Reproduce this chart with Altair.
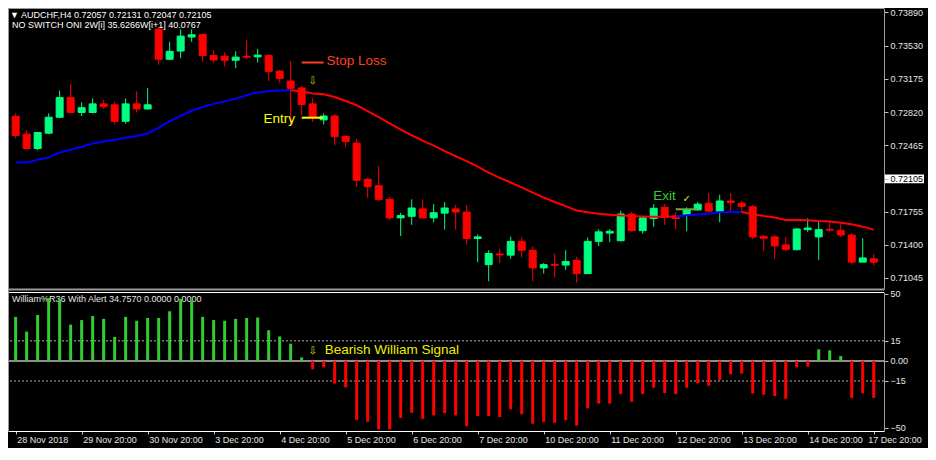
import altair as alt
import pandas as pd

# ---------------- data ----------------
bar_index = list(range(1, 80))

opens = [0.72775, 0.72584, 0.72430, 0.72594, 0.72765, 0.72976, 0.72816, 0.72816, 0.72908, 0.72898,
         0.72721, 0.72908, 0.72854, 0.73709, 0.73386, 0.73474, 0.73624, 0.73652, 0.73427, 0.73419,
         0.73375, 0.73418, 0.73412, 0.73427, 0.73259, 0.73153, 0.73079, 0.72908, 0.72737, 0.72778,
         0.72560, 0.72488, 0.72100, 0.72031, 0.71885, 0.71687, 0.71704, 0.71783, 0.71687, 0.71738,
         0.71783, 0.71749, 0.71466, 0.71186, 0.71300, 0.71288, 0.71435, 0.71340, 0.71151, 0.71190,
         0.71182, 0.71230, 0.71090, 0.71435, 0.71524, 0.71442, 0.71728, 0.71550, 0.71680, 0.71800,
         0.71708, 0.71714, 0.71772, 0.71844, 0.71759, 0.71868, 0.71844, 0.71806, 0.71489, 0.71483,
         0.71397, 0.71346, 0.71561, 0.71483, 0.71565, 0.71554, 0.71503, 0.71213, 0.71248]
highs = [0.72806, 0.72625, 0.72608, 0.72806, 0.73051, 0.73123, 0.72925, 0.72966, 0.72949, 0.72931,
         0.72966, 0.73041, 0.73079, 0.73733, 0.73573, 0.73706, 0.73706, 0.73660, 0.73481, 0.73460,
         0.73471, 0.73596, 0.73498, 0.73440, 0.73273, 0.73368, 0.73102, 0.72969, 0.72806, 0.72798,
         0.72573, 0.72532, 0.72117, 0.72243, 0.71913, 0.71742, 0.71885, 0.71885, 0.71834, 0.71857,
         0.71824, 0.71824, 0.71510, 0.71340, 0.71356, 0.71486, 0.71476, 0.71381, 0.71203, 0.71305,
         0.71340, 0.71271, 0.71476, 0.71565, 0.71568, 0.71765, 0.71749, 0.71698, 0.71834, 0.71834,
         0.71749, 0.71800, 0.71857, 0.71953, 0.71936, 0.71953, 0.71868, 0.71824, 0.71503, 0.71503,
         0.71483, 0.71578, 0.71683, 0.71653, 0.71639, 0.71619, 0.71527, 0.71469, 0.71299]
lows = [0.72540, 0.72422, 0.72414, 0.72584, 0.72754, 0.72806, 0.72778, 0.72806, 0.72854, 0.72683,
        0.72696, 0.72816, 0.72846, 0.73327, 0.73378, 0.73396, 0.73573, 0.73361, 0.73345, 0.73310,
        0.73290, 0.73386, 0.73351, 0.73153, 0.73136, 0.72676, 0.72788, 0.72714, 0.72686, 0.72465,
        0.72448, 0.72021, 0.71902, 0.71867, 0.71663, 0.71493, 0.71612, 0.71680, 0.71639, 0.71561,
        0.71561, 0.71401, 0.71213, 0.71008, 0.71203, 0.71248, 0.71264, 0.71008, 0.71090, 0.71049,
        0.71128, 0.70992, 0.71084, 0.71387, 0.71428, 0.71435, 0.71537, 0.71517, 0.71591, 0.71612,
        0.71568, 0.71544, 0.71765, 0.71749, 0.71639, 0.71749, 0.71742, 0.71458, 0.71329, 0.71248,
        0.71329, 0.71340, 0.71537, 0.71237, 0.71544, 0.71483, 0.71186, 0.71213, 0.71176]
closes = [0.72570, 0.72430, 0.72601, 0.72765, 0.72976, 0.72816, 0.72867, 0.72908, 0.72880, 0.72721,
          0.72908, 0.72854, 0.72898, 0.73386, 0.73471, 0.73634, 0.73648, 0.73427, 0.73378, 0.73375,
          0.73409, 0.73408, 0.73430, 0.73256, 0.73181, 0.73075, 0.72901, 0.72765, 0.72778, 0.72557,
          0.72506, 0.72090, 0.72021, 0.71885, 0.71687, 0.71711, 0.71793, 0.71687, 0.71742, 0.71793,
          0.71749, 0.71466, 0.71483, 0.71305, 0.71290, 0.71435, 0.71340, 0.71151, 0.71186, 0.71180,
          0.71220, 0.71090, 0.71435, 0.71537, 0.71544, 0.71728, 0.71550, 0.71687, 0.71790, 0.71691,
          0.71680, 0.71772, 0.71834, 0.71759, 0.71868, 0.71851, 0.71810, 0.71483, 0.71469, 0.71387,
          0.71350, 0.71568, 0.71578, 0.71561, 0.71556, 0.71503, 0.71213, 0.71258, 0.71213]

ma_line = [0.72281, 0.72281, 0.72309, 0.72335, 0.72388, 0.72417, 0.72448, 0.72483, 0.72506, 0.72524,
           0.72545, 0.72565, 0.72591, 0.72652, 0.72724, 0.72780, 0.72834, 0.72874, 0.72908, 0.72933,
           0.72964, 0.73000, 0.73031, 0.73044, 0.73051, 0.73054, 0.73043, 0.73020, 0.73010, 0.72982,
           0.72939, 0.72893, 0.72831, 0.72765, 0.72698, 0.72632, 0.72572, 0.72514, 0.72461, 0.72402,
           0.72347, 0.72294, 0.72235, 0.72171, 0.72115, 0.72066, 0.72013, 0.71957, 0.71905, 0.71857,
           0.71813, 0.71765, 0.71747, 0.71731, 0.71721, 0.71713, 0.71708, 0.71703, 0.71699, 0.71699,
           0.71701, 0.71714, 0.71723, 0.71731, 0.71747, 0.71749, 0.71749, 0.71726, 0.71708, 0.71691,
           0.71665, 0.71663, 0.71662, 0.71653, 0.71647, 0.71634, 0.71619, 0.71593, 0.71561]
trend_turns = [26, 61, 67]          # bars where the line switches colour
trend_first = "ma_up"

williams = [32.9, 21.9, 34.3, 46.9, 46.0, 27.1, 30.5, 33.6, 31.4, 17.9,
            32.9, 30.0, 32.1, 32.1, 37.1, 46.4, 45.0, 32.9, 30.5, 30.0,
            31.4, 32.1, 32.4, 22.9, 18.3, 12.9, 2.6, -6.2, -4.8, -16.9,
            -19.8, -44.0, -45.5, -51.2, -51.2, -42.6, -38.8, -43.3, -40.7, -39.0,
            -40.7, -48.8, -41.2, -41.2, -41.9, -36.2, -39.8, -46.9, -45.5, -46.2,
            -44.3, -48.3, -35.5, -31.9, -31.9, -24.8, -30.5, -24.8, -20.0, -24.0,
            -24.8, -20.0, -16.7, -18.6, -14.3, -10.0, -9.5, -24.3, -25.2, -26.2,
            -28.3, -4.8, -4.3, 8.6, 7.9, 3.6, -27.6, -24.3, -27.6]

price_ticks = [0.73890, 0.73530, 0.73175, 0.72820, 0.72465, 0.72105, 0.71755, 0.71400, 0.71045]
current_price = [0.72105]
wpr_ticks = [50, 15, 0, -15, -50]
wpr_dashed = [15, -15]
wpr_zero = [0]

date_tick_index = [1, 7, 13, 19, 25, 31, 37, 43, 49, 55, 61, 67, 73, 79]
date_tick_labels = ["28 Nov 2018", "29 Nov 20:00", "30 Nov 20:00", "3 Dec 20:00", "4 Dec 20:00",
                    "5 Dec 20:00", "6 Dec 20:00", "7 Dec 20:00", "10 Dec 20:00", "11 Dec 20:00",
                    "12 Dec 20:00", "13 Dec 20:00", "14 Dec 20:00", "17 Dec 20:00"]

stop_loss_span = [27, 29]
stop_loss_price = [0.73351]
entry_span = [27, 29]
entry_price = [0.72760]
exit_span = [61, 63]
exit_price = [0.71779]

header_main = ["\u25bc AUDCHF,H4  0.72057 0.72131 0.72047 0.72105"]
header_ind = ["NO SWITCH ONI 2W[i] 35.6266W[i+1] 40.0767"]
header_wpr = ["William%R36 With Alert 34.7570 0.0000 0.0000"]

# ---------------- tables ----------------
candles = pd.DataFrame({"i": bar_index, "o": opens, "h": highs, "l": lows, "c": closes})
candles["dir"] = ["up" if c > o else "down" for o, c in zip(opens, closes)]

rows = []
bounds = [1] + trend_turns + [79]
trend = trend_first
for s in range(len(bounds) - 1):
    for i in range(bounds[s], bounds[s + 1] + 1):
        rows.append({"i": i, "p": ma_line[i - 1], "seg": s, "trend": trend})
    trend = "ma_down" if trend == "ma_up" else "ma_up"
ma_df = pd.DataFrame(rows)

wpr_df = pd.DataFrame({"i": bar_index, "w": williams})
wpr_df["sign"] = ["pos" if v >= 0 else "neg" for v in williams]

# ---------------- scales / axes ----------------
W, H = 876, 423
FONT = "Liberation Sans"

label_expr = " : ".join(f"datum.value == {v} ? '{t}'" for v, t in zip(date_tick_index, date_tick_labels)) + " : ''"
x_scale = alt.Scale(domain=[0.76, 79.48], nice=False, zero=False)
x_axis = alt.Axis(values=date_tick_index, labelExpr=label_expr, labelAlign="left", labelBaseline="top",
                  labelPadding=1, tickSize=3, tickColor="#c8c8c8", domainColor="#ffffff",
                  labelColor="#e6e6e6", labelFontSize=9, labelFont=FONT, grid=False, title=None,
                  labelOverlap=False, labelFlush=False, labelBound=False,
                  labelOffset={"condition": {"test": "datum.value == 79", "value": -6}, "value": 1})


def X(field):
    return alt.X(field, type="quantitative", scale=x_scale, axis=x_axis, title=None)


y_top_scale = alt.Scale(domain=[0.70923, 0.73935], range=[281.2, 0], nice=False, zero=False)
y_top_axis = alt.Axis(orient="right", values=price_ticks, format=".5f", grid=False, title=None,
                      labelFont=FONT, labelFontSize=9, tickSize=4, labelPadding=2,
                      tickColor="#c0c0c0", domainColor="#a0a0a0", zindex=1,
                      labelColor={"condition": {"test": "abs(datum.value - 0.72105) < 0.0000001", "value": "#000000"},
                                  "value": "#e6e6e6"})


def YT(field):
    return alt.Y(field, type="quantitative", scale=y_top_scale, axis=y_top_axis, title=None)


y_bot_scale = alt.Scale(domain=[-52.35, 51.4], range=[423, 284.1], nice=False, zero=False)
y_bot_axis = alt.Axis(orient="right", values=wpr_ticks, grid=False, title=None,
                      labelExpr="datum.value == 0 ? '0.00' : format(datum.value, 'd')",
                      labelFont=FONT, labelFontSize=9, tickSize=4, labelPadding=2,
                      tickColor="#c0c0c0", domainColor="#a0a0a0", labelColor="#e6e6e6", zindex=1)


def YB(field):
    return alt.Y(field, type="quantitative", scale=y_bot_scale, axis=y_bot_axis, title=None)


palette = alt.Scale(domain=["up", "down", "ma_up", "ma_down", "pos", "neg"],
                    range=["#00ff80", "#ff0000", "#0000ff", "#ff0000", "#32cd32", "#ff0000"])

one = pd.DataFrame({"k": [0]})

# ---------------- top panel ----------------
wicks = alt.Chart(candles).mark_rule(strokeWidth=1).encode(
    x=X("i"), y=YT("l"), y2="h",
    color=alt.Color("dir:N", scale=palette, legend=None))
bodies = alt.Chart(candles).mark_bar(size=7, strokeWidth=1).encode(
    x=X("i"), y=YT("o"), y2="c",
    color=alt.Color("dir:N", scale=palette, legend=None),
    stroke=alt.Stroke("dir:N", scale=palette, legend=None))
ma = alt.Chart(ma_df).mark_line(strokeWidth=2).encode(
    x=X("i"), y=YT("p"), detail="seg:N",
    color=alt.Color("trend:N", scale=palette, legend=None))

price_box = alt.Chart(pd.DataFrame({"p": current_price})).mark_point(
    shape="M-2,-0.45H2V0.45H-2Z", size=380, filled=True, color="#ffffff", opacity=1, strokeWidth=0
).encode(x=alt.value(896.5), y=YT("p"))

sl_df = pd.DataFrame({"i0": [stop_loss_span[0]], "i1": [stop_loss_span[1]], "p": stop_loss_price})
en_df = pd.DataFrame({"i0": [entry_span[0]], "i1": [entry_span[1]], "p": entry_price})
ex_df = pd.DataFrame({"i0": [exit_span[0]], "i1": [exit_span[1]], "p": exit_price})

sl_line = alt.Chart(sl_df).mark_rule(color="#ff4020", strokeWidth=2).encode(x=X("i0"), x2="i1", y=YT("p"))
en_line = alt.Chart(en_df).mark_rule(color="#ffff00", strokeWidth=2).encode(x=X("i0"), x2="i1", y=YT("p"))
ex_line = alt.Chart(ex_df).mark_rule(color="#6fae3a", strokeWidth=2).encode(x=X("i0"), x2="i1", y=YT("p"))

notes_top = pd.DataFrame({
    "i": [29.25, 26.4, 61.0, 28.0, 62.0],
    "p": [0.73368, 0.72748, 0.71916, 0.73153, 0.71885],
    "t": ["Stop Loss", "Entry", "Exit", "\u21e9", "\u2713"],
})
sl_text = alt.Chart(notes_top.iloc[[0]]).mark_text(align="left", baseline="middle", font=FONT, fontSize=13.5,
                                                    color="#ff4020").encode(x=X("i"), y=YT("p"), text="t:N")
en_text = alt.Chart(notes_top.iloc[[1]]).mark_text(align="right", baseline="middle", font=FONT, fontSize=13.5,
                                                    color="#ffff00").encode(x=X("i"), y=YT("p"), text="t:N")
ex_text = alt.Chart(notes_top.iloc[[2]]).mark_text(align="right", baseline="middle", font=FONT, fontSize=13.5,
                                                    color="#32cd32").encode(x=X("i"), y=YT("p"), text="t:N")
arrow_top = alt.Chart(notes_top.iloc[[3]]).mark_text(align="center", baseline="middle", font="DejaVu Sans",
                                                      fontSize=10, color="#d2d200").encode(x=X("i"), y=YT("p"), text="t:N")
check = alt.Chart(notes_top.iloc[[4]]).mark_text(align="center", baseline="middle", font="DejaVu Sans",
                                                  fontSize=10, color="#e8e800").encode(x=X("i"), y=YT("p"), text="t:N")

hdr1 = alt.Chart(pd.DataFrame({"t": header_main})).mark_text(
    align="left", baseline="middle", font=FONT, fontSize=9, color="#ffffff"
).encode(x=alt.value(2), y=alt.value(6.7), text="t:N")
hdr2 = alt.Chart(pd.DataFrame({"t": header_ind})).mark_text(
    align="left", baseline="middle", font=FONT, fontSize=9, color="#ffffff"
).encode(x=alt.value(4), y=alt.value(17.2), text="t:N")

top = alt.layer(hdr1, hdr2, wicks, bodies, ma, sl_line, en_line, ex_line,
                sl_text, en_text, ex_text, arrow_top, check, price_box)

# ---------------- bottom panel ----------------
hdr3 = alt.Chart(pd.DataFrame({"t": header_wpr})).mark_text(
    align="left", baseline="middle", font=FONT, fontSize=9, color="#e6e6e6"
).encode(x=alt.value(4), y=alt.value(290.8), text="t:N")
dashed = alt.Chart(pd.DataFrame({"v": wpr_dashed})).mark_rule(
    color="#b4b4b4", strokeWidth=1, strokeDash=[2, 2]).encode(y=YB("v"))
zero = alt.Chart(pd.DataFrame({"v": wpr_zero})).mark_rule(
    color="#8c8c8c", strokeWidth=2).encode(y=YB("v"))
wbars = alt.Chart(wpr_df).mark_bar(size=3).encode(
    x=X("i"), y=YB("w"),
    color=alt.Color("sign:N", scale=palette, legend=None))

notes_bot = pd.DataFrame({"i": [28.0, 29.1], "v": [7.6, 7.9], "t": ["\u21e9", "Bearish William Signal"]})
arrow_bot = alt.Chart(notes_bot.iloc[[0]]).mark_text(align="center", baseline="middle", font="DejaVu Sans",
                                                      fontSize=10, color="#e0e000").encode(x=X("i"), y=YB("v"), text="t:N")
signal_text = alt.Chart(notes_bot.iloc[[1]]).mark_text(align="left", baseline="middle", font=FONT, fontSize=13.5,
                                                        color="#eeee00").encode(x=X("i"), y=YB("v"), text="t:N")

bottom = alt.layer(hdr3, dashed, zero, wbars, arrow_bot, signal_text)

# ---------------- frame ----------------
frame_gray = alt.Chart(one).mark_rule(color="#9a9a9a", strokeWidth=2).encode(
    x=alt.value(0), x2=alt.value(W), y=alt.value(281.5))
frame_white = alt.Chart(one).mark_rule(color="#ffffff", strokeWidth=1).encode(
    x=alt.value(0), x2=alt.value(W), y=alt.value(284.5))
frame_left = alt.Chart(one).mark_rule(color="#9a9a9a", strokeWidth=1).encode(
    x=alt.value(0.5), y=alt.value(0), y2=alt.value(H))
frame_top = alt.Chart(one).mark_rule(color="#9a9a9a", strokeWidth=1).encode(
    x=alt.value(0), x2=alt.value(W), y=alt.value(0.5))

chart = alt.layer(top, bottom, frame_gray, frame_white, frame_left, frame_top).resolve_scale(
    y="independent"
).properties(
    width=W, height=H,
    autosize=alt.AutoSizeParams(type="none"),
    padding={"left": 0, "top": 0, "right": 44, "bottom": 17},
    background="#000000",
).configure_view(stroke="transparent")

chart.save("out.html", embed_options={"renderer": "svg", "actions": False})
